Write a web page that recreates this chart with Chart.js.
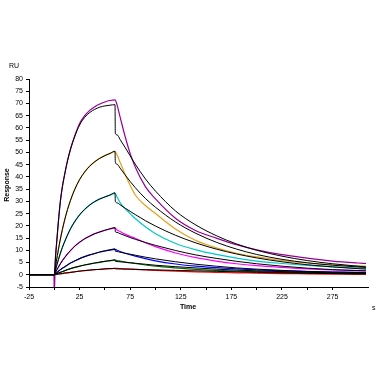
<!DOCTYPE html>
<html>
<head>
<meta charset="utf-8">
<script src="https://cdn.jsdelivr.net/npm/chart.js@4/dist/chart.umd.min.js"></script>
<style>
html,body{margin:0;padding:0;background:#fff;}
canvas{display:block;}
</style>
</head>
<body>
<canvas id="c" width="378" height="378"></canvas>
<script>
// Time grids (s)
const assocTimes = [0,1,2,4,6,8,10,13,16,20,25,30,35,40,45,50,55,60];
const dissTimes  = [62,65,70,75,80,90,100,120,140,160,180,200,225,250,275,300,308];
const fitDropTime = 60.3;

// Measured responses (RU)
const purpleAssoc  = [-8,6,11.5,21.5,30,36,40.5,46.5,51.3,56.5,61.8,65,67.2,68.7,69.8,70.6,71.2,71.5];
const purpleDiss   = [69.4,64.5,56.5,49.5,44,36,31,23,18,15,12.3,10.2,8.2,6.8,5.6,4.8,4.6];
const orangeAssoc  = [0,2.8,5.4,10.2,14.6,18.5,22.0,26.6,30.4,34.7,38.9,42.0,44.4,46.2,47.6,48.7,49.5,50.3];
const orangeDiss   = [49.0,46,41,36.5,32.6,28.3,25,18.6,14.0,11.0,8.8,7.3,5.8,4.8,4.1,3.6,3.5];
const cyanAssoc    = [0,1.6,3.2,6.1,8.8,11.2,13.3,16.2,18.8,21.6,24.5,26.7,28.5,29.9,31.0,31.8,32.5,33.3];
const cyanDiss     = [31.8,29.5,27,25,23,19.6,16.8,12.8,10.2,8.3,6.8,5.6,4.6,3.8,3.2,2.7,2.6];
const magentaAssoc = [0,0.8,1.6,3.1,4.5,5.8,6.9,8.5,9.9,11.6,13.3,14.7,15.8,16.8,17.5,18.2,18.7,19.1];
const magentaDiss  = [18.3,17.7,16.6,15.7,14.9,13.1,11.5,8.9,7.0,5.6,4.5,3.7,3.0,2.4,2.0,1.7,1.6];
const blueAssoc    = [0,0.4,0.7,1.4,2.1,2.7,3.2,4.0,4.8,5.6,6.6,7.4,8.1,8.7,9.3,9.7,10.1,10.4];
const blueDiss     = [10.0,9.5,8.8,8.2,7.6,6.6,5.7,4.4,3.5,2.9,2.4,2.0,1.6,1.3,1.1,1.0,0.9];
const greenAssoc   = [0,0.2,0.4,0.7,1.0,1.3,1.6,2.1,2.5,3.0,3.5,4.0,4.4,4.8,5.1,5.5,5.7,6.0];
const greenDiss    = [5.8,5.6,5.2,4.9,4.6,4.0,3.5,2.8,2.2,1.8,1.5,1.3,1.0,0.8,0.6,0.5,0.5];
const redAssoc     = [0,0.1,0.1,0.3,0.4,0.5,0.7,0.8,1.0,1.2,1.5,1.7,1.9,2.1,2.2,2.4,2.5,2.6];
const redDiss      = [2.6,2.5,2.4,2.3,2.2,2.0,1.8,1.5,1.2,1.0,0.8,0.7,0.5,0.4,0.3,0.2,0.2];

// Fitted curves (black)
const purpleFitAssoc  = [0,6,11.5,21.5,30,36,40.5,46.5,51.3,56.3,61.2,64.3,66.3,67.6,68.5,69.0,69.3,69.5];
const purpleFitDiss   = [57.8,57.2,55.3,52,48.6,45.2,39.2,34.2,26,20.3,16.0,12.6,10.0,7.6,5.8,4.5,3.5,3.2];
const orangeFitAssoc  = [0,2.8,5.4,10.2,14.6,18.5,22.0,26.6,30.4,34.7,38.9,42.0,44.4,46.2,47.6,48.7,49.6,50.5];
const orangeFitDiss   = [46,45.2,43.6,40.8,38.1,35.6,31.2,27.6,21.5,16.9,13.3,10.5,8.3,6.3,4.9,3.9,3.2,3.0];
const cyanFitAssoc    = [0,1.6,3.2,6.1,8.8,11.2,13.3,16.2,18.8,21.6,24.5,26.7,28.5,29.9,31.0,31.8,32.6,33.5];
const cyanFitDiss     = [30,29.4,28.6,27.2,25.9,24.6,22.1,19.9,16.1,13.0,10.5,8.5,6.9,5.3,4.1,3.2,2.5,2.3];
const magentaFitAssoc = [0,0.8,1.6,3.1,4.5,5.8,6.9,8.5,9.9,11.6,13.3,14.7,15.8,16.8,17.5,18.2,18.8,19.3];
const magentaFitDiss  = [17.6,17.3,16.8,16.0,15.2,14.5,13.2,12.0,9.9,8.1,6.7,5.5,4.5,3.5,2.7,2.1,1.7,1.6];
const blueFitAssoc    = [0,0.4,0.7,1.4,2.1,2.7,3.2,4.0,4.8,5.6,6.6,7.4,8.1,8.7,9.3,9.8,10.2,10.6];
const blueFitDiss     = [9.6,9.5,9.2,8.8,8.4,8.0,7.2,6.5,5.3,4.3,3.5,2.8,2.3,1.8,1.4,1.1,0.9,0.8];
const greenFitAssoc   = [0,0.2,0.4,0.7,1.0,1.3,1.6,2.1,2.5,3.0,3.5,4.0,4.4,4.8,5.2,5.5,5.8,6.1];
const greenFitDiss    = [5.5,5.4,5.3,5.1,4.9,4.7,4.3,3.9,3.3,2.8,2.3,1.9,1.6,1.3,1.0,0.8,0.6,0.6];
const redFitAssoc     = [0,0.1,0.1,0.3,0.4,0.5,0.7,0.8,1.0,1.2,1.5,1.7,1.9,2.1,2.2,2.4,2.5,2.6];
const redFitDiss      = [2.4,2.4,2.4,2.3,2.3,2.2,2.1,2.0,1.8,1.6,1.4,1.2,1.0,0.8,0.6,0.5,0.4,0.4];

// Axis ticks
const xTickLabels = [-25,25,75,125,175,225,275];
const yTickStep = 5;

function dataSeries(assoc, diss, lead) {
  const pts = [];
  if (lead) pts.push({x:-0.3, y:0});
  assocTimes.forEach((t,i)=>pts.push({x:t, y:assoc[i]}));
  dissTimes.forEach((t,i)=>pts.push({x:t, y:diss[i]}));
  return pts;
}
function fitSeries(assoc, diss) {
  const pts = [{x:-25, y:0}];
  assocTimes.forEach((t,i)=>pts.push({x:t, y:assoc[i]}));
  const times = [fitDropTime].concat(dissTimes);
  times.forEach((t,i)=>pts.push({x:t, y:diss[i]}));
  return pts;
}

const series = [
  ['#990099', purpleAssoc, purpleDiss, purpleFitAssoc, purpleFitDiss, true],
  ['#e3a21a', orangeAssoc, orangeDiss, orangeFitAssoc, orangeFitDiss, false],
  ['#00c8c8', cyanAssoc, cyanDiss, cyanFitAssoc, cyanFitDiss, false],
  ['#ff00ff', magentaAssoc, magentaDiss, magentaFitAssoc, magentaFitDiss, false],
  ['#0000ff', blueAssoc, blueDiss, blueFitAssoc, blueFitDiss, false],
  ['#006400', greenAssoc, greenDiss, greenFitAssoc, greenFitDiss, false],
  ['#ff0000', redAssoc, redDiss, redFitAssoc, redFitDiss, false]
];

const datasets = [];
series.forEach(s=>{
  datasets.push({data: dataSeries(s[1], s[2], s[5]), borderColor: s[0], borderWidth: 1.2, order: 2});
  datasets.push({data: fitSeries(s[3], s[4]), borderColor: '#000', borderWidth: 1, order: 1});
});

const FONT = 'Liberation Sans, Arial, sans-serif';

const textPlugin = {
  id: 'texts',
  afterDraw(chart) {
    const ctx = chart.ctx;
    ctx.save();
    ctx.fillStyle = '#000';
    ctx.font = '7px ' + FONT;
    ctx.textBaseline = 'middle';
    ctx.textAlign = 'left';
    ctx.fillText('RU', 9, 66);
    ctx.fillText('s', 372, 308);
    ctx.font = 'bold 7px ' + FONT;
    ctx.textAlign = 'center';
    ctx.fillText('Time', 188, 307);
    ctx.translate(7, 185);
    ctx.rotate(-Math.PI/2);
    ctx.fillText('Response', 0, 0);
    ctx.restore();
  }
};

new Chart(document.getElementById('c'), {
  type: 'line',
  data: { datasets },
  options: {
    responsive: false,
    animation: false,
    devicePixelRatio: 1,
    layout: { padding: { top: 79, right: 10, left: 0, bottom: 0 } },
    elements: { point: { radius: 0 }, line: { cubicInterpolationMode: 'monotone', fill: false } },
    plugins: { legend: { display: false }, tooltip: { enabled: false } },
    scales: {
      x: {
        type: 'linear', min: -25, max: 310,
        afterFit(s){ s.height = 91; },
        afterBuildTicks(s){ s.ticks = s.ticks.filter(t => t.value % 25 === 0); },
        ticks: {
          stepSize: 25, autoSkip: false, maxRotation: 0, padding: 3,
          color: '#000', font: { family: FONT, size: 7 },
          callback: v => xTickLabels.includes(v) ? String(v) : ''
        },
        grid: { drawOnChartArea: false, drawTicks: true, tickLength: 3, color: '#000' },
        border: { color: '#000', width: 1 }
      },
      y: {
        min: -5, max: 80,
        afterFit(s){ s.width = 29; },
        ticks: { stepSize: yTickStep, padding: 3, color: '#000', font: { family: FONT, size: 7 } },
        grid: { drawOnChartArea: false, drawTicks: true, tickLength: 3, color: '#000' },
        border: { color: '#000', width: 1 }
      }
    }
  },
  plugins: [textPlugin]
});
</script>
</body>
</html>
